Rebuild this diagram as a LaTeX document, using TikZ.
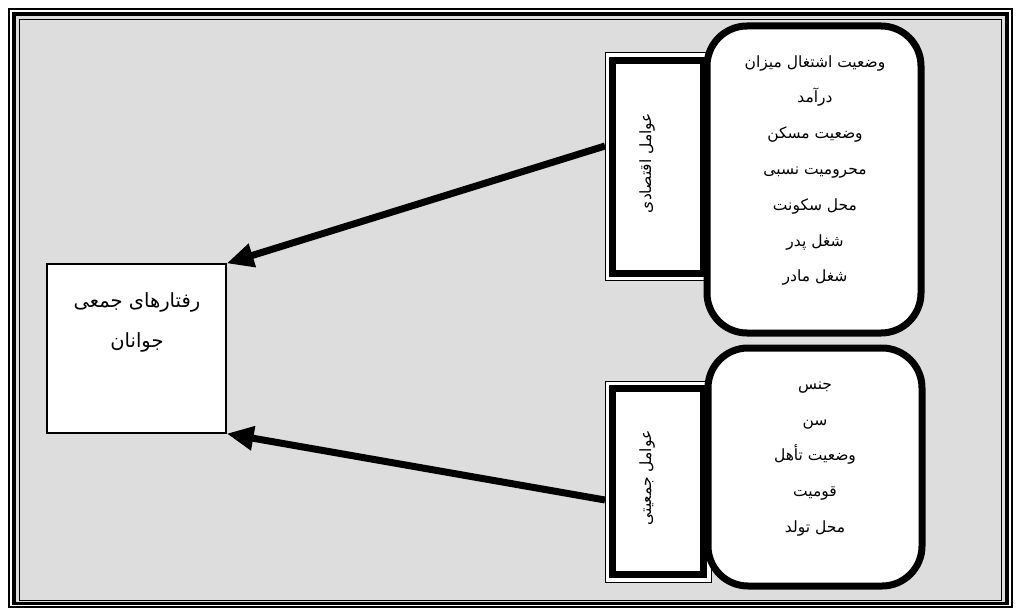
\documentclass[tikz,border=0pt]{standalone}
\usepackage{fontspec}
\newfontfamily\farsi[Script=Arabic]{DejaVu Sans}
\TeXXeTstate=1
\newcommand{\fa}[1]{\beginR #1\endR}
\usetikzlibrary{arrows.meta}
\definecolor{panelgray}{RGB}{221,221,221}

\begin{document}
\begin{tikzpicture}[x=1pt, y=-1pt,
  every node/.style={font=\farsi\fontsize{15.5}{18}\selectfont},
  listbox/.style={draw, line width=7pt, fill=white, rounded corners=40pt, minimum width=214pt},
  factorbox/.style={draw, line width=7pt, fill=white, minimum width=91pt,
    preaction={draw, line width=16pt}, preaction={draw=white, line width=14pt}},
  items/.style={align=center, font=\farsi\fontsize{15.5}{35.8}\selectfont},
  arr/.style={-{Triangle[length=27pt, width=23pt]}, line width=7pt}]
\useasboundingbox (0,0) rectangle (1016,609);

% frame
\fill[panelgray] (14,14) rectangle (1007,603.5);
\draw[line width=1.5pt] (9,9) rectangle (1012,607);
\draw[line width=3.5pt] (14,14) rectangle (1007,603.5);
\draw[line width=1.5pt] (19.5,19.5) rectangle (1001.5,600.5);

\node[draw, line width=1.2pt, fill=white, minimum width=179pt, minimum height=169pt] (youth) at (136.5,348.5) {};
\node[align=center, font=\farsi\fontsize{19.5}{40}\selectfont] (youth-text) at (137,322) {\fa{رفتارهای جمعی}\\ \fa{جوانان}};

\node[factorbox, minimum height=213pt] (econ) at (658,167) {};
\node[factorbox, minimum height=186pt] (social) at (658,481.5) {};
\node[listbox, minimum height=307pt] (econ-list) at (814,179.5) {};
\node[listbox, minimum height=238pt] (social-list) at (815,467) {};

\node[rotate=90] (econ-text) at (647,163) {\fa{عوامل اقتصادی}};
\node[rotate=90] (social-text) at (647,478) {\fa{عوامل جمعیتی}};

\node[items] (econ-items) at (815,170.5) {\fa{وضعیت اشتغال میزان}\\ \fa{درآمد}\\ \fa{وضعیت مسکن}\\
  \fa{محرومیت نسبی}\\ \fa{محل سکونت}\\ \fa{شغل پدر}\\ \fa{شغل مادر}};
\node[items] (social-items) at (815,459) {\fa{جنس}\\ \fa{سن}\\ \fa{وضعیت تأهل}\\ \fa{قومیت}\\ \fa{محل تولد}};

\draw[arr] ([xshift=-4pt, yshift=21pt]econ.west) to (youth.north east);
\draw[arr] ([xshift=-4pt, yshift=-18.5pt]social.west) to (youth.south east);
\end{tikzpicture}
\end{document}
